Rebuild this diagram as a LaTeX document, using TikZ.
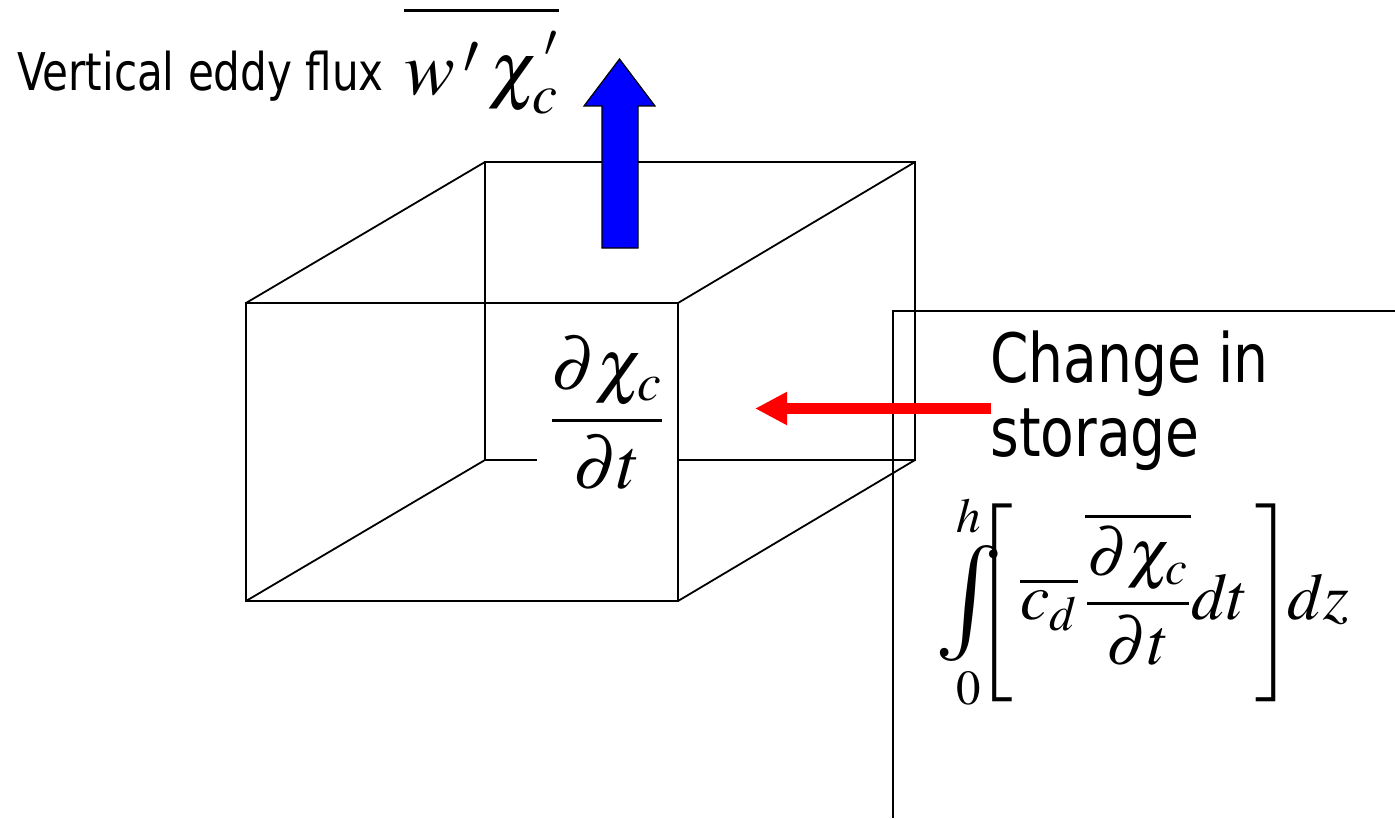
\documentclass[tikz,border=0pt]{standalone}
\usepackage{amsmath}
\usepackage{mathptmx}
\usepackage{fontspec}
\newfontfamily\labelfont[FakeStretch=0.9]{DejaVu Sans Condensed}
\usepackage{tikz}
\usetikzlibrary{arrows.meta, positioning, calc}
\definecolor{FluxBlue}{rgb}{0, 0, 1}
\definecolor{StoreRed}{rgb}{1, 0, 0}
\newcommand{\bigint}{\mathop{\vcenter{\hbox{\fontsize{58}{58}\selectfont$\int$}}}}

\begin{document}
\begin{tikzpicture}[x=0.5pt, y=-0.5pt,
    edge/.style={black, line width=0.9pt},
    lbl/.style={inner sep=0pt, font=\labelfont\fontsize{34}{40}\selectfont},
    eqn/.style={inner sep=0pt, font=\fontsize{36}{42}\selectfont}]
    \useasboundingbox (0,0) rectangle (1395,818);
    % Cube corners
    \coordinate (ftl) at (246,303); \coordinate (ftr) at (678,303);
    \coordinate (fbl) at (246,601); \coordinate (fbr) at (678,601);
    \coordinate (btl) at (485,162); \coordinate (btr) at (915,162);
    \coordinate (bbl) at (485,460); \coordinate (bbr) at (915,460);
    % Back face
    \draw [edge] (bbl) -- (btl) -- (btr) -- (bbr) -- cycle;
    % Storage term inside the cube
    \node [eqn, fill=white, minimum width=70pt, minimum height=80pt] (dchi) at (607,413)
        {$\displaystyle\frac{\partial\chi_c}{\partial t}$};
    % Front face and depth edges
    \draw [edge] (ftl) rectangle (fbr);
    \draw [edge] (ftl) -- (btl) (ftr) -- (btr) (fbr) -- (bbr) (fbl) -- (bbl);
    % Side panel
    \coordinate (pnw) at (893,311);
    \draw [edge] (1395,311) -- (pnw) -- (893,818);
    % Eddy flux arrow
    \filldraw [FluxBlue, draw=black, line width=0.6pt]
        (602,248) -- (602,106) -- (584,106) -- (619.5,59) -- (655,106) -- (638,106) -- (638,248) -- cycle;
    \node [lbl, anchor=base west, font=\labelfont\fontsize{26}{30}\selectfont] (vef) at (17,91) {Vertical eddy flux};
    \node [eqn, anchor=base west, font=\fontsize{38}{44}\selectfont] (wchi) at (404,95)
        {$\overline{w\,'\,\chi_c^{\,'}\rule{0pt}{37pt}}$};
    % Change in storage
    \node [lbl, anchor=base west] (chg) at (990,382) {Change in};
    \node [lbl, anchor=base west] (stor) at (990,456) {storage};
    \node [eqn, anchor=west, font=\fontsize{33}{40}\selectfont] (intg) at (934,602)
        {$\bigint\limits_0^h\mkern-10mu\left[\,\overline{c_d}\,\overline{\displaystyle\frac{\partial\chi_c}{\partial t}}dt\rule[-37pt]{0pt}{77pt}\,\right]\!\!dz$};
    \coordinate (rtail) at (991,408.5);
    \coordinate (rtip) at (755,408.5);
    \draw [-{Triangle[length=16pt, width=15.5pt]}, StoreRed, line width=5.5pt] (rtail) -- (rtip);
\end{tikzpicture}
\end{document}
